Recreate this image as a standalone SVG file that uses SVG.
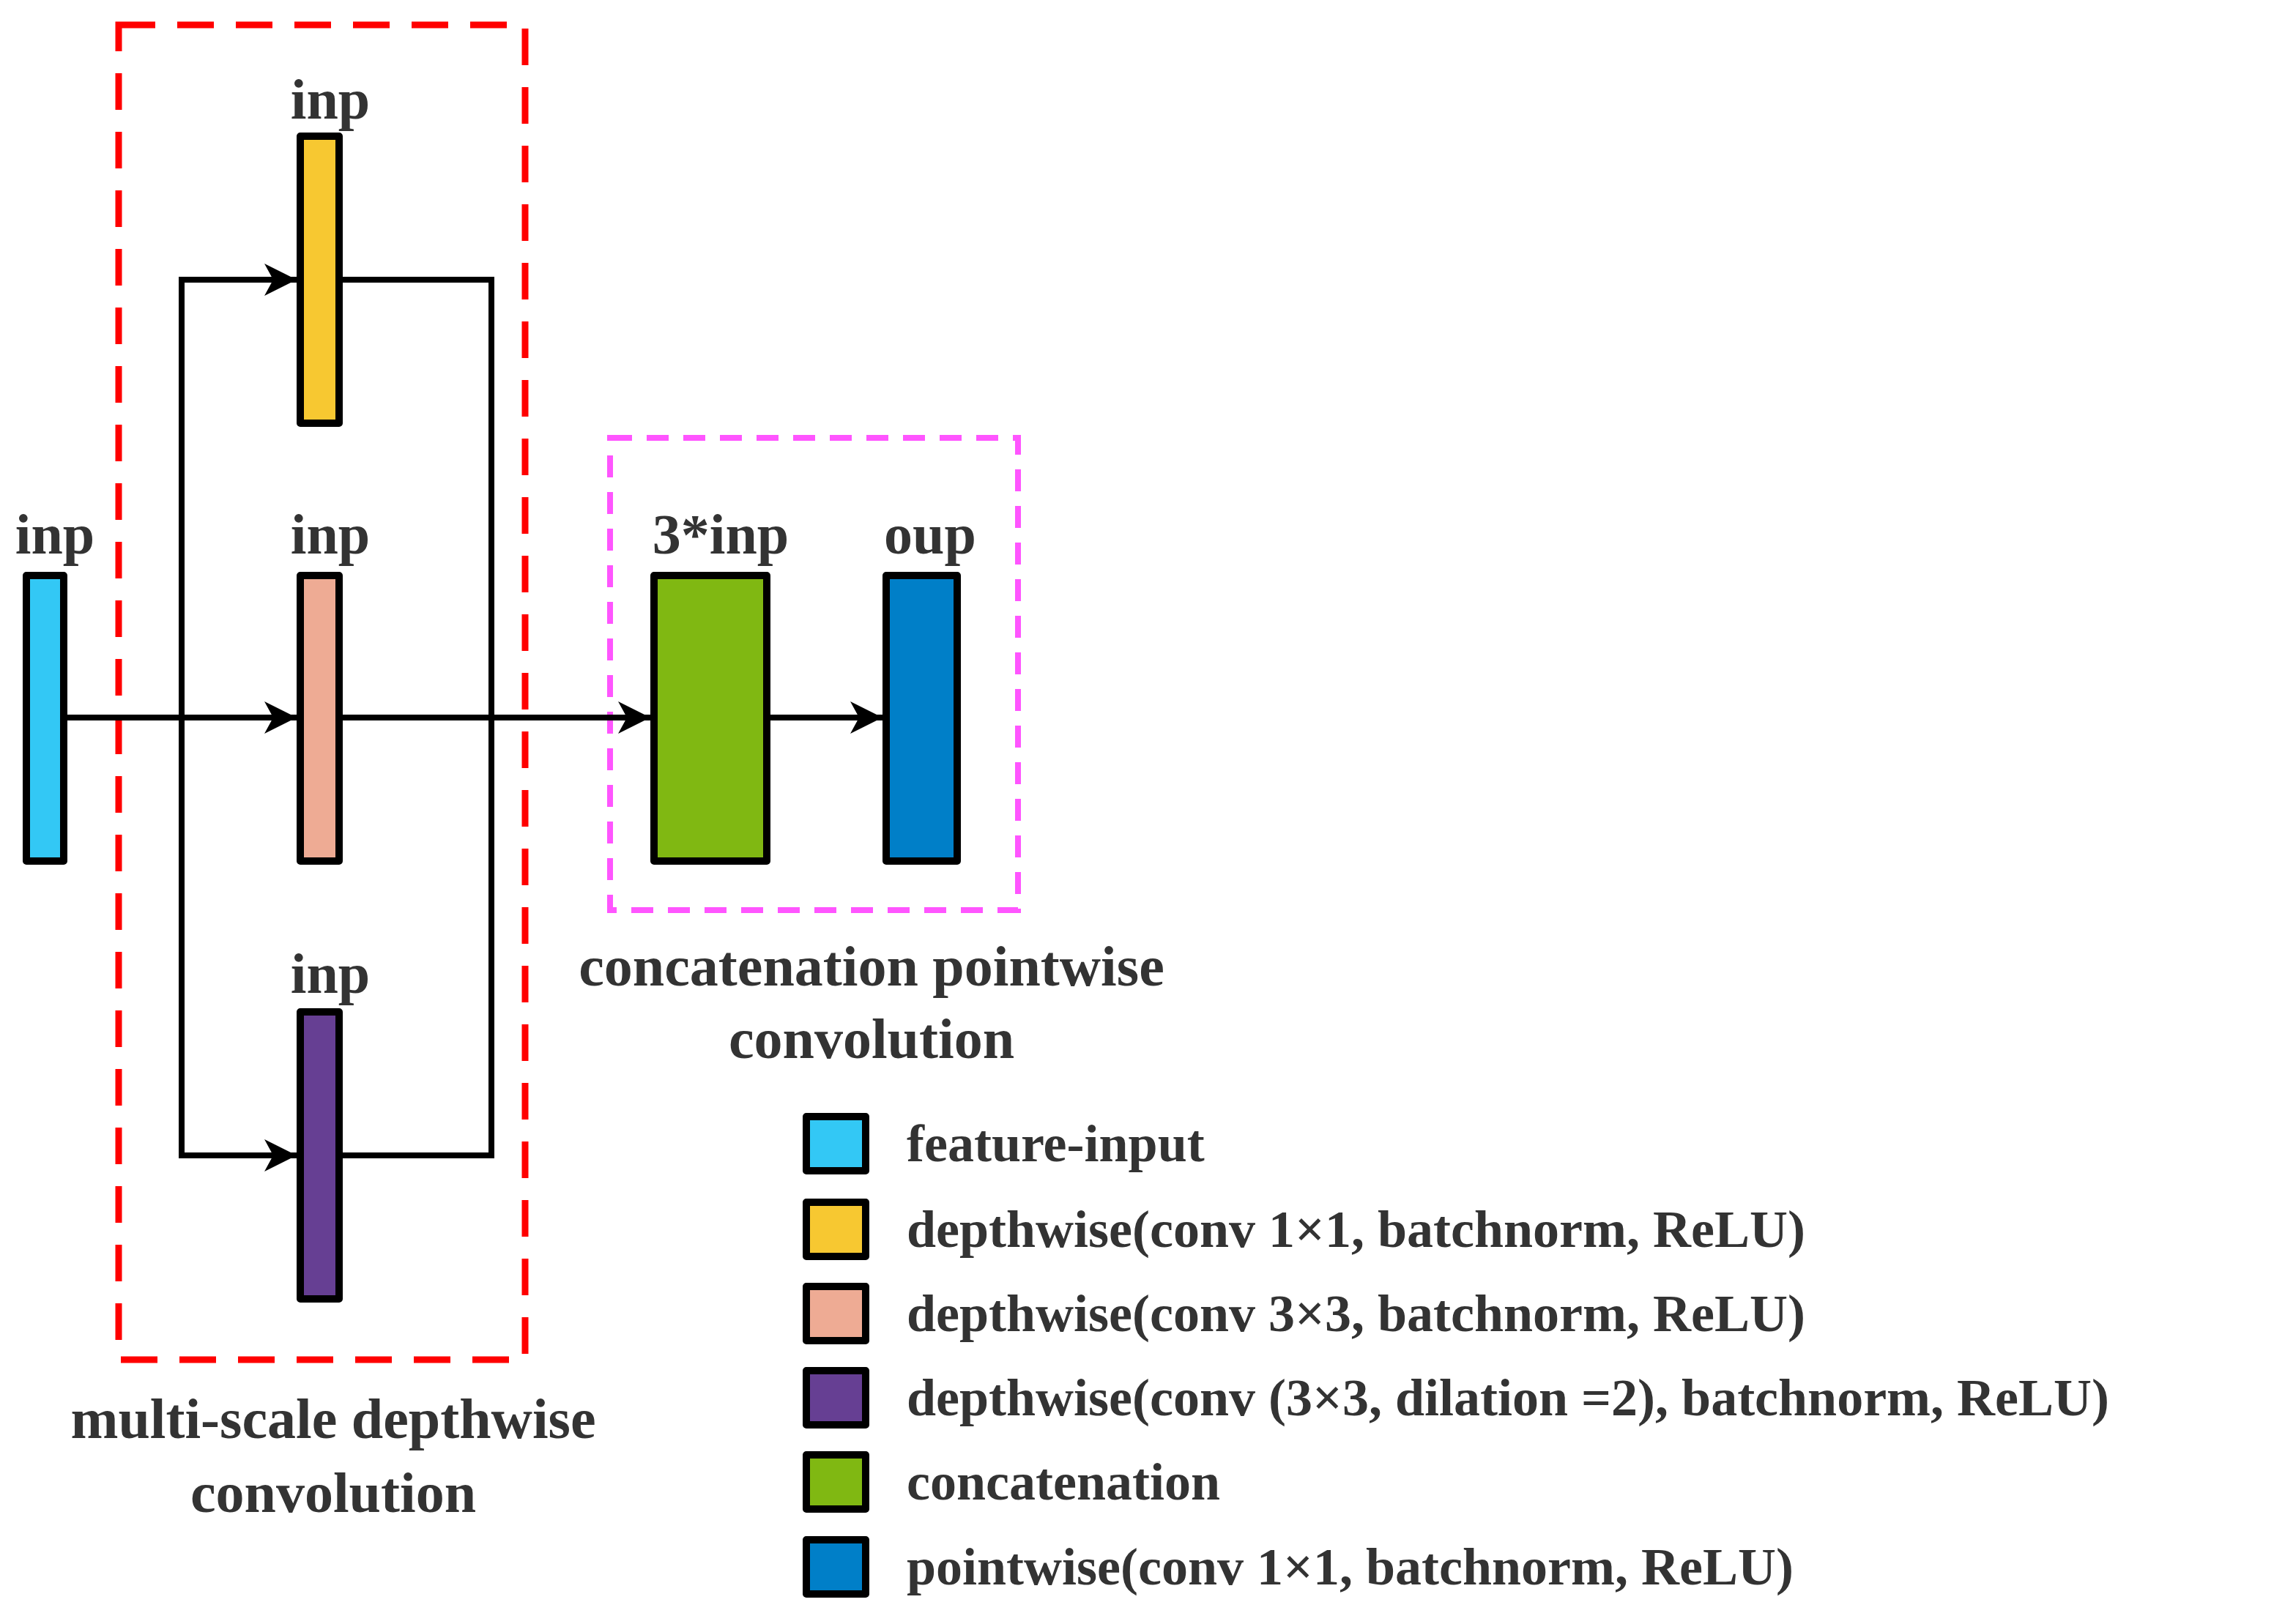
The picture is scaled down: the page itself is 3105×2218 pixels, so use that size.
<svg xmlns="http://www.w3.org/2000/svg" width="3105" height="2218" viewBox="0 0 3105 2218">
<style>
.b{stroke:#000;stroke-width:10;stroke-linejoin:round}
.l{fill:none;stroke:#000;stroke-width:8}
text{font-family:"Liberation Serif",serif;font-weight:bold;fill:#333}
.h{font-size:78px;text-anchor:middle}
.g{font-size:72px}
</style>
<defs>
<marker id="a" markerUnits="userSpaceOnUse" markerWidth="60" markerHeight="60" refX="48" refY="30" orient="auto">
<path d="M48,30 L4,8 L16,30 L4,52 Z" fill="#000"/>
</marker>
</defs>
<rect x="0" y="0" width="3105" height="2218" fill="#fff"/>
<g id="groups">
<rect x="162" y="34" width="555" height="1823" fill="none" stroke="#f00" stroke-width="9" stroke-dasharray="50,30"/>
<rect x="833" y="598" width="557" height="645" fill="none" stroke="#f5f" stroke-width="8" stroke-dasharray="30,20"/>
</g>
<g id="connectors">
<path class="l" d="M87,980 H405" marker-end="url(#a)"/>
<path class="l" d="M248,980 V382 H405" marker-end="url(#a)"/>
<path class="l" d="M248,980 V1578 H405" marker-end="url(#a)"/>
<path class="l" d="M463,382 H671 V1578 H463"/>
<path class="l" d="M463,980 H671"/>
<path class="l" d="M671,980 H888" stroke-width="11" marker-end="url(#a)"/>
<path class="l" d="M1047,980 H1205" marker-end="url(#a)"/>
</g>
<g id="n-input"><rect class="b" x="36" y="786" width="51" height="390" fill="#33c8f5"/><text class="h" x="75" y="756">inp</text></g>
<g id="n-dw1"><rect class="b" x="410" y="186" width="53" height="392" fill="#f7c831"/><text class="h" x="451" y="162">inp</text></g>
<g id="n-dw3"><rect class="b" x="410" y="786" width="53" height="390" fill="#eeab94"/><text class="h" x="451" y="756">inp</text></g>
<g id="n-dwd"><rect class="b" x="410" y="1382" width="53" height="392" fill="#663f93"/><text class="h" x="451" y="1356">inp</text></g>
<g id="n-concat"><rect class="b" x="893" y="786" width="154" height="390" fill="#80b812"/><text class="h" x="984" y="756">3*inp</text></g>
<g id="n-pw"><rect class="b" x="1210" y="786" width="97" height="390" fill="#007fc8"/><text class="h" x="1270" y="756">oup</text></g>
<g id="labels">
<text class="h" x="1190" y="1346">concatenation pointwise</text>
<text class="h" x="1190" y="1445">convolution</text>
<text class="h" x="455" y="1964">multi-scale depthwise</text>
<text class="h" x="455" y="2065">convolution</text>
</g>
<g id="legend">
<rect class="b" x="1101" y="1525" width="81" height="74" fill="#33c8f5"/><text class="g" x="1238" y="1586">feature-input</text>
<rect class="b" x="1101" y="1642" width="81" height="74" fill="#f7c831"/><text class="g" x="1238" y="1703">depthwise(conv 1×1, batchnorm, ReLU)</text>
<rect class="b" x="1101" y="1757" width="81" height="74" fill="#eeab94"/><text class="g" x="1238" y="1818">depthwise(conv 3×3, batchnorm, ReLU)</text>
<rect class="b" x="1101" y="1872" width="81" height="74" fill="#663f93"/><text class="g" x="1238" y="1933">depthwise(conv (3×3, dilation =2), batchnorm, ReLU)</text>
<rect class="b" x="1101" y="1987" width="81" height="74" fill="#80b812"/><text class="g" x="1238" y="2048">concatenation</text>
<rect class="b" x="1101" y="2103" width="81" height="74" fill="#007fc8"/><text class="g" x="1238" y="2164">pointwise(conv 1×1, batchnorm, ReLU)</text>
</g>
</svg>
